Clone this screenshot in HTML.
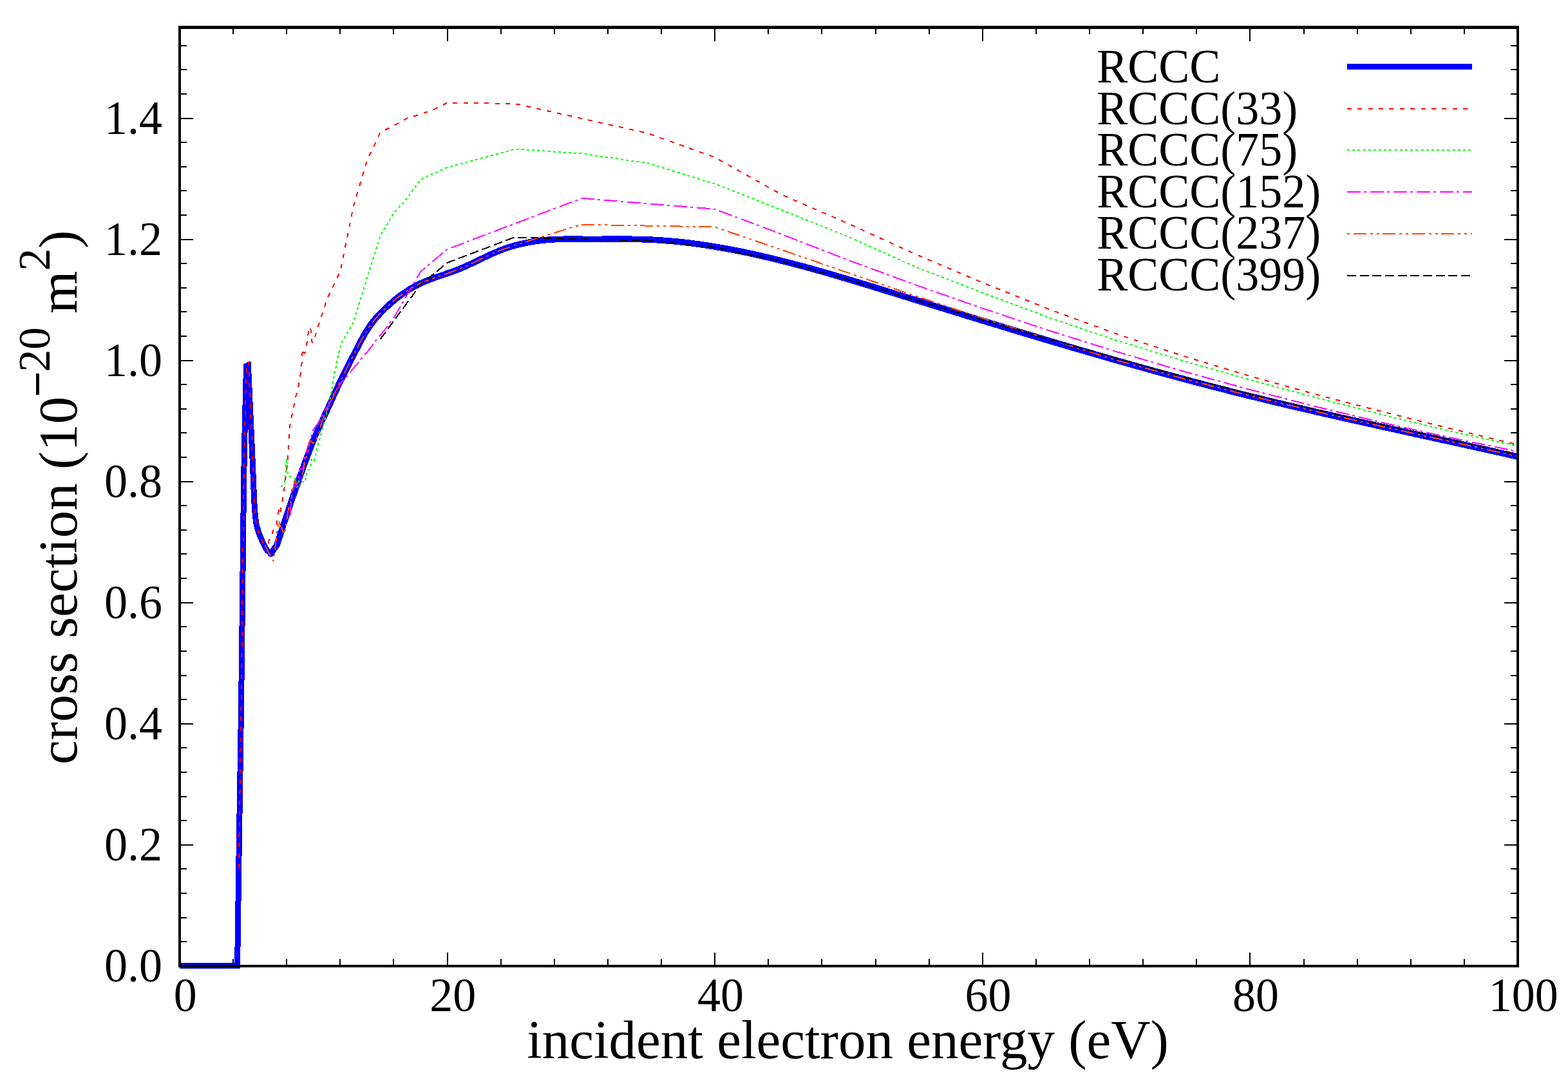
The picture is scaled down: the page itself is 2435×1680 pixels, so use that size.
<!DOCTYPE html>
<html lang="en"><head><meta charset="utf-8"><title>RCCC cross section</title>
<style>
html,body{margin:0;padding:0;background:#fff;}
body{width:2435px;height:1680px;overflow:hidden;}
svg{display:block;}
text{font-family:"Liberation Serif",serif;fill:#000;}
.tick{font-size:72px;}
.lab{font-size:85px;}
.leg{font-size:72px;}
.c{fill:none;stroke-width:2;stroke-linejoin:round;stroke-linecap:butt;}
</style></head><body>
<svg width="2435" height="1680" viewBox="0 0 2435 1680" role="img" aria-label="RCCC cross section versus incident electron energy">
<rect x="0" y="0" width="2435" height="1680" fill="#fff"/>
<defs><clipPath id="cp"><rect x="279" y="40" width="2076" height="1470"/></clipPath></defs>
<g fill="#000" shape-rendering="crispEdges">
<rect x="361" y="1489" width="2" height="9"/>
<rect x="361" y="45" width="2" height="8"/>
<rect x="444" y="1489" width="2" height="9"/>
<rect x="444" y="45" width="2" height="8"/>
<rect x="527" y="1489" width="2" height="9"/>
<rect x="527" y="45" width="2" height="8"/>
<rect x="610" y="1489" width="2" height="9"/>
<rect x="610" y="45" width="2" height="8"/>
<rect x="694" y="1479" width="2" height="19"/>
<rect x="694" y="45" width="2" height="19"/>
<rect x="777" y="1489" width="2" height="9"/>
<rect x="777" y="45" width="2" height="8"/>
<rect x="860" y="1489" width="2" height="9"/>
<rect x="860" y="45" width="2" height="8"/>
<rect x="943" y="1489" width="2" height="9"/>
<rect x="943" y="45" width="2" height="8"/>
<rect x="1026" y="1489" width="2" height="9"/>
<rect x="1026" y="45" width="2" height="8"/>
<rect x="1109" y="1479" width="2" height="19"/>
<rect x="1109" y="45" width="2" height="19"/>
<rect x="1192" y="1489" width="2" height="9"/>
<rect x="1192" y="45" width="2" height="8"/>
<rect x="1275" y="1489" width="2" height="9"/>
<rect x="1275" y="45" width="2" height="8"/>
<rect x="1359" y="1489" width="2" height="9"/>
<rect x="1359" y="45" width="2" height="8"/>
<rect x="1442" y="1489" width="2" height="9"/>
<rect x="1442" y="45" width="2" height="8"/>
<rect x="1525" y="1479" width="2" height="19"/>
<rect x="1525" y="45" width="2" height="19"/>
<rect x="1608" y="1489" width="2" height="9"/>
<rect x="1608" y="45" width="2" height="8"/>
<rect x="1691" y="1489" width="2" height="9"/>
<rect x="1691" y="45" width="2" height="8"/>
<rect x="1774" y="1489" width="2" height="9"/>
<rect x="1774" y="45" width="2" height="8"/>
<rect x="1857" y="1489" width="2" height="9"/>
<rect x="1857" y="45" width="2" height="8"/>
<rect x="1940" y="1479" width="2" height="19"/>
<rect x="1940" y="45" width="2" height="19"/>
<rect x="2024" y="1489" width="2" height="9"/>
<rect x="2024" y="45" width="2" height="8"/>
<rect x="2107" y="1489" width="2" height="9"/>
<rect x="2107" y="45" width="2" height="8"/>
<rect x="2190" y="1489" width="2" height="9"/>
<rect x="2190" y="45" width="2" height="8"/>
<rect x="2273" y="1489" width="2" height="9"/>
<rect x="2273" y="45" width="2" height="8"/>
<rect x="281" y="1461" width="9" height="2"/>
<rect x="2346" y="1461" width="9" height="2"/>
<rect x="281" y="1424" width="9" height="2"/>
<rect x="2346" y="1424" width="9" height="2"/>
<rect x="281" y="1386" width="9" height="2"/>
<rect x="2346" y="1386" width="9" height="2"/>
<rect x="281" y="1348" width="9" height="2"/>
<rect x="2346" y="1348" width="9" height="2"/>
<rect x="281" y="1311" width="19" height="2"/>
<rect x="2336" y="1311" width="19" height="2"/>
<rect x="281" y="1273" width="9" height="2"/>
<rect x="2346" y="1273" width="9" height="2"/>
<rect x="281" y="1236" width="9" height="2"/>
<rect x="2346" y="1236" width="9" height="2"/>
<rect x="281" y="1198" width="9" height="2"/>
<rect x="2346" y="1198" width="9" height="2"/>
<rect x="281" y="1160" width="9" height="2"/>
<rect x="2346" y="1160" width="9" height="2"/>
<rect x="281" y="1123" width="19" height="2"/>
<rect x="2336" y="1123" width="19" height="2"/>
<rect x="281" y="1085" width="9" height="2"/>
<rect x="2346" y="1085" width="9" height="2"/>
<rect x="281" y="1048" width="9" height="2"/>
<rect x="2346" y="1048" width="9" height="2"/>
<rect x="281" y="1010" width="9" height="2"/>
<rect x="2346" y="1010" width="9" height="2"/>
<rect x="281" y="972" width="9" height="2"/>
<rect x="2346" y="972" width="9" height="2"/>
<rect x="281" y="935" width="19" height="2"/>
<rect x="2336" y="935" width="19" height="2"/>
<rect x="281" y="897" width="9" height="2"/>
<rect x="2346" y="897" width="9" height="2"/>
<rect x="281" y="859" width="9" height="2"/>
<rect x="2346" y="859" width="9" height="2"/>
<rect x="281" y="822" width="9" height="2"/>
<rect x="2346" y="822" width="9" height="2"/>
<rect x="281" y="784" width="9" height="2"/>
<rect x="2346" y="784" width="9" height="2"/>
<rect x="281" y="747" width="19" height="2"/>
<rect x="2336" y="747" width="19" height="2"/>
<rect x="281" y="709" width="9" height="2"/>
<rect x="2346" y="709" width="9" height="2"/>
<rect x="281" y="671" width="9" height="2"/>
<rect x="2346" y="671" width="9" height="2"/>
<rect x="281" y="634" width="9" height="2"/>
<rect x="2346" y="634" width="9" height="2"/>
<rect x="281" y="596" width="9" height="2"/>
<rect x="2346" y="596" width="9" height="2"/>
<rect x="281" y="559" width="19" height="2"/>
<rect x="2336" y="559" width="19" height="2"/>
<rect x="281" y="521" width="9" height="2"/>
<rect x="2346" y="521" width="9" height="2"/>
<rect x="281" y="483" width="9" height="2"/>
<rect x="2346" y="483" width="9" height="2"/>
<rect x="281" y="446" width="9" height="2"/>
<rect x="2346" y="446" width="9" height="2"/>
<rect x="281" y="408" width="9" height="2"/>
<rect x="2346" y="408" width="9" height="2"/>
<rect x="281" y="371" width="19" height="2"/>
<rect x="2336" y="371" width="19" height="2"/>
<rect x="281" y="333" width="9" height="2"/>
<rect x="2346" y="333" width="9" height="2"/>
<rect x="281" y="295" width="9" height="2"/>
<rect x="2346" y="295" width="9" height="2"/>
<rect x="281" y="258" width="9" height="2"/>
<rect x="2346" y="258" width="9" height="2"/>
<rect x="281" y="220" width="9" height="2"/>
<rect x="2346" y="220" width="9" height="2"/>
<rect x="281" y="183" width="19" height="2"/>
<rect x="2336" y="183" width="19" height="2"/>
<rect x="281" y="145" width="9" height="2"/>
<rect x="2346" y="145" width="9" height="2"/>
<rect x="281" y="107" width="9" height="2"/>
<rect x="2346" y="107" width="9" height="2"/>
<rect x="281" y="70" width="9" height="2"/>
<rect x="2346" y="70" width="9" height="2"/>
</g>
<g clip-path="url(#cp)" shape-rendering="crispEdges">
<polyline points="279,1499.5 372.8,1499.5" fill="none" stroke="#0000ff" stroke-width="9"/>
<polyline points="368.6,1500.0 370.7,1350.0 374.5,1100.0 377.1,880.0 378.4,760.0 379.6,690.0 380.6,646.0 381.6,605.0 382.5,569.0 385.4,567.0 391.3,695.0 394.0,760.0 395.4,790.0 397.7,812.6 401.9,827.7 408.3,842.7 414.3,854.0 420.6,860.0" fill="none" stroke="#0000ff" stroke-width="9" stroke-linejoin="bevel"/>
<polygon points="378,565.4 380.5,564 383,563 385,562 387,561 389,561 390,563 390,572 378,572" fill="#0000ff"/>
<polyline points="420.6,860.0 430.0,846.1 436.0,827.8 442.0,809.5 448.0,791.4 454.0,773.6 460.0,756.2 466.0,739.3 472.0,722.7 478.0,706.4 484.0,690.6 490.0,675.7 496.0,662.1 502.0,649.5 508.0,636.8 514.0,623.6 520.0,610.3 526.0,597.2 532.0,584.8 538.0,572.8 544.0,561.1 550.0,549.5 556.0,537.8 560.0,530.1 568.0,515.7 576.0,503.7 584.0,493.6 592.0,485.0 600.0,477.1 608.0,469.9 616.0,463.2 624.0,457.2 632.0,451.7 640.0,446.8 648.0,442.5 656.0,438.7 664.0,435.4 672.0,432.3 680.0,429.5 688.0,426.8 696.0,424.1 704.0,421.2 712.0,418.2 720.0,414.8 728.0,411.2 736.0,407.5 744.0,403.6 752.0,399.8 760.0,396.0 768.0,392.5 776.0,389.1 784.0,386.1 792.0,383.4 800.0,381.1 808.0,379.0 816.0,377.3 824.0,375.7 832.0,374.4 840.0,373.3 848.0,372.5 864.0,371.5 880.0,371.3 896.0,371.3 912.0,371.4 928.0,371.4 944.0,371.3 960.0,371.2 976.0,371.3 992.0,371.5 1008.0,372.0 1024.0,372.9 1040.0,374.1 1056.0,375.6 1072.0,377.4 1088.0,379.6 1104.0,382.0 1120.0,384.7 1136.0,387.6 1152.0,390.7 1168.0,394.1 1184.0,397.7 1200.0,401.5 1216.0,405.4 1232.0,409.6 1248.0,413.8 1264.0,418.2 1280.0,422.7 1296.0,427.4 1312.0,432.1 1328.0,436.9 1344.0,441.7 1360.0,446.6 1376.0,451.6 1392.0,456.5 1408.0,461.5 1424.0,466.5 1440.0,471.4 1456.0,476.4 1472.0,481.3 1488.0,486.2 1504.0,491.2 1520.0,496.1 1536.0,500.9 1552.0,505.8 1568.0,510.7 1584.0,515.5 1600.0,520.3 1616.0,525.1 1632.0,529.9 1648.0,534.6 1664.0,539.3 1680.0,544.0 1696.0,548.7 1712.0,553.3 1728.0,557.9 1744.0,562.4 1760.0,567.0 1776.0,571.4 1792.0,575.9 1808.0,580.3 1824.0,584.6 1840.0,588.9 1856.0,593.2 1872.0,597.4 1888.0,601.5 1904.0,605.6 1920.0,609.7 1936.0,613.7 1952.0,617.6 1968.0,621.5 1984.0,625.4 2000.0,629.2 2016.0,632.9 2032.0,636.7 2048.0,640.4 2064.0,644.0 2080.0,647.7 2096.0,651.3 2112.0,654.8 2128.0,658.4 2144.0,662.0 2160.0,665.5 2176.0,669.0 2192.0,672.6 2208.0,676.1 2224.0,679.6 2240.0,683.1 2256.0,686.6 2272.0,690.1 2288.0,693.7 2304.0,697.2 2320.0,700.8 2336.0,704.4 2352.0,708.0 2357.0,709.1" fill="none" stroke="#0000ff" stroke-width="9.7" stroke-linejoin="round" stroke-linecap="round"/>
<polyline class="c" points="370.7,1348.0 374.5,1100.0 377.1,880.0 378.4,760.0 379.6,690.0 380.6,646.0 381.6,605.0 383.2,566.0 386.0,562.5 391.3,695.0 394.0,760.0 395.4,790.0 397.7,812.6 401.9,827.7 408.3,842.7 414.0,846.5 416.5,845.0 418.4,836.0 422.6,829.5 425.2,821.0 429.3,816.4 430.8,805.0 432.3,799.0 432.7,792.0 435.3,798.0 436.5,785.0 438.3,779.5 439.5,770.0 441.0,762.0 444.6,732.7 448.0,702.3 449.4,669.2 451.3,651.6 455.7,637.8 457.6,620.3 462.0,607.8 464.6,593.5 467.2,577.7 468.9,561.2 469.8,541.5 472.3,549.5 474.5,546.0 476.6,531.9 478.9,516.0 481.1,507.4 483.2,514.0 484.0,530.5 486.5,532.0 488.5,526.0 491.7,513.8 496.9,498.0 502.2,482.3 507.6,464.5 528.4,421.4 549.1,319.6 569.9,249.3 590.7,205.5 611.5,195.0 632.3,183.6 653.0,177.4 673.8,170.0 694.6,159.5 800.0,161.0 1006.3,207.0 1110.2,244.4 1214.1,302.3 1318.0,347.5 1421.9,394.7 1525.8,438.9 1629.7,480.4 1733.6,518.4 1837.5,552.8 1941.4,584.1 2045.3,612.9 2149.2,639.9 2253.1,665.6 2357.0,690.5" stroke="#ff0000" stroke-dasharray="7 9.36" stroke-dashoffset="0"/>
<polyline class="c" points="436.3,756.0 441.9,749.0 443.8,732.0 445.0,712.6 447.2,739.0 457.6,742.7 461.0,757.5 464.5,746.0 473.3,748.9 475.3,740.8 475.8,732.0 480.8,728.2 483.3,720.0 484.5,712.0 487.7,715.0 490.2,706.3 492.0,698.2 496.1,682.5 500.6,666.7 511.2,625.3 514.4,610.3 516.9,595.2 519.4,578.9 521.9,570.2 524.4,555.1 527.0,544.0 531.0,531.6 539.0,517.6 547.8,503.3 569.9,432.0 590.7,366.0 611.5,331.0 632.3,307.5 653.0,278.5 694.6,260.0 800.0,231.5 902.4,238.3 1006.3,253.3 1110.2,285.5 1214.1,326.2 1318.0,367.8 1421.9,414.5 1525.8,454.6 1629.7,493.4 1733.6,528.5 1837.5,560.4 1941.4,589.8 2045.3,617.8 2149.2,644.6 2253.1,669.7 2357.0,692.5" stroke="#00ff00" stroke-dasharray="4 4.18" stroke-dashoffset="0"/>
<polyline class="c" points="450.3,801.0 452.0,782.6 453.5,772.5 452.6,762.0 462.0,750.0 464.0,741.6 465.0,727.5 471.0,727.5 472.0,717.0 475.0,704.0 479.0,690.0 482.6,681.0 486.0,668.0 494.0,657.6 499.0,649.0 505.0,636.5 510.0,630.0 516.0,617.0 520.0,610.0 529.0,595.0 535.6,587.6 552.6,567.5 558.7,560.0 575.1,540.7 584.6,527.6 597.2,512.6 611.5,493.5 653.0,422.0 694.6,387.0 903.5,307.8 1110.2,324.7 1214.1,363.8 1318.0,404.2 1421.9,442.4 1525.8,478.8 1629.7,513.4 1733.6,546.0 1837.5,576.5 1941.4,605.1 2045.3,631.8 2149.2,656.7 2253.1,679.8 2357.0,701.1" stroke="#ff00ff" stroke-dasharray="21 5 4 6" stroke-dashoffset="0"/>
<polyline class="c" points="411.3,846.5 420.7,864.5 424.4,871.0 432.7,809.0 441.4,830.0 444.7,811.0 447.7,791.6 452.0,775.0 457.5,746.6 465.6,754.6 468.6,745.0 471.0,730.0 473.0,720.0 475.6,710.0 478.6,701.5 481.5,683.0 486.0,688.6 490.6,684.0 494.6,675.0 500.0,653.7 510.0,632.5 520.0,610.3 530.0,588.8 540.0,568.9 550.0,549.5 560.0,530.1 570.0,512.5 580.0,498.5 590.0,487.1 600.0,477.1 610.0,468.2 620.0,460.1 630.0,453.0 640.0,446.8 650.0,441.5 660.0,437.0 670.0,433.1 680.0,429.5 690.0,426.1 700.0,422.7 710.0,419.0 720.0,414.8 730.0,410.3 740.0,405.6 750.0,400.7 760.0,396.0 770.0,391.6 780.0,387.6 798.5,381.0 902.4,348.7 1110.2,352.5 1214.1,388.0 1318.0,423.9 1421.9,459.6 1525.8,494.2 1629.7,526.9 1733.6,559.2 1837.5,587.9 1941.4,614.7 2045.3,639.4 2149.2,662.8 2253.1,685.7 2357.0,708.8" stroke="#ff4500" stroke-dasharray="20 6 4 5.75 4 5.75" stroke-dashoffset="0"/>
<polyline class="c" points="590.7,526.5 653.0,442.0 694.6,408.0 798.5,368.5 902.4,371.3 1006.3,373.4 1110.2,384.0 1214.1,405.8 1318.0,434.5 1421.9,466.0 1525.8,496.6 1629.7,526.8 1733.6,556.3 1837.5,585.0 1941.4,611.8 2045.3,636.5 2149.2,659.9 2253.1,682.7 2357.0,705.8" stroke="#000000" stroke-dasharray="14 5.66" stroke-dashoffset="0"/>
</g>
<g fill="#000" shape-rendering="crispEdges">
<rect x="277" y="40" width="4" height="1462"/>
<rect x="2355" y="40" width="4" height="1462"/>
<rect x="277" y="40" width="2082" height="5"/>
<rect x="277" y="1498" width="2082" height="4"/>
</g>
<g class="tick" text-anchor="middle">
<text transform="translate(287.7,1569.7) scale(1,1.035)">0</text>
<text transform="translate(703.3,1569.7) scale(1,1.035)">20</text>
<text transform="translate(1118.9,1569.7) scale(1,1.035)">40</text>
<text transform="translate(1534.5,1569.7) scale(1,1.035)">60</text>
<text transform="translate(1950.1,1569.7) scale(1,1.035)">80</text>
<text transform="translate(2365.7,1569.7) scale(1,1.035)">100</text>
</g>
<g class="tick" text-anchor="end">
<text transform="translate(252,1524.0) scale(1,1.035)">0.0</text>
<text transform="translate(252,1336.0) scale(1,1.035)">0.2</text>
<text transform="translate(252,1148.0) scale(1,1.035)">0.4</text>
<text transform="translate(252,960.0) scale(1,1.035)">0.6</text>
<text transform="translate(252,772.0) scale(1,1.035)">0.8</text>
<text transform="translate(252,584.0) scale(1,1.035)">1.0</text>
<text transform="translate(252,396.0) scale(1,1.035)">1.2</text>
<text transform="translate(252,208.0) scale(1,1.035)">1.4</text>
</g>
<text class="lab" x="1316.5" y="1643" text-anchor="middle">incident electron energy (eV)</text>
<text class="lab" transform="translate(119,1187) rotate(-90)" x="0" y="0">cross section (10<tspan font-size="68" dy="-38.2" stroke="#000" stroke-width="1.5">−</tspan><tspan font-size="69.5" dy="-4.3">20</tspan><tspan dy="42.5"> m</tspan><tspan font-size="69.5" dy="-42.5">2</tspan><tspan dy="42.5">)</tspan></text>
<g class="leg">
<text transform="translate(1703.3,128.0) scale(1,1.025)">RCCC</text>
<text transform="translate(1703.3,192.6) scale(1,1.025)">RCCC(33)</text>
<text transform="translate(1703.3,257.2) scale(1,1.025)">RCCC(75)</text>
<text transform="translate(1703.3,321.8) scale(1,1.025)">RCCC(152)</text>
<text transform="translate(1703.3,386.4) scale(1,1.025)">RCCC(237)</text>
<text transform="translate(1703.3,451.0) scale(1,1.025)">RCCC(399)</text>
</g>
<g shape-rendering="crispEdges">
<line x1="2092" y1="103.5" x2="2286" y2="103.5" stroke="#0000ff" stroke-width="9"/>
<line x1="2092" y1="169.0" x2="2286" y2="169.0" stroke="#ff0000" stroke-width="2" stroke-dasharray="7 9.36" stroke-dashoffset="0"/>
<line x1="2092" y1="233.0" x2="2286" y2="233.0" stroke="#00ff00" stroke-width="2" stroke-dasharray="4 4.18" stroke-dashoffset="0"/>
<line x1="2092" y1="298.0" x2="2286" y2="298.0" stroke="#ff00ff" stroke-width="2" stroke-dasharray="21 5 4 6" stroke-dashoffset="0"/>
<line x1="2092" y1="363.0" x2="2286" y2="363.0" stroke="#ff4500" stroke-width="2" stroke-dasharray="20 6 4 5.75 4 5.75" stroke-dashoffset="35.75"/>
<line x1="2092" y1="428.0" x2="2286" y2="428.0" stroke="#000000" stroke-width="2" stroke-dasharray="14 5.66" stroke-dashoffset="0"/>
</g>
</svg>
</body></html>
